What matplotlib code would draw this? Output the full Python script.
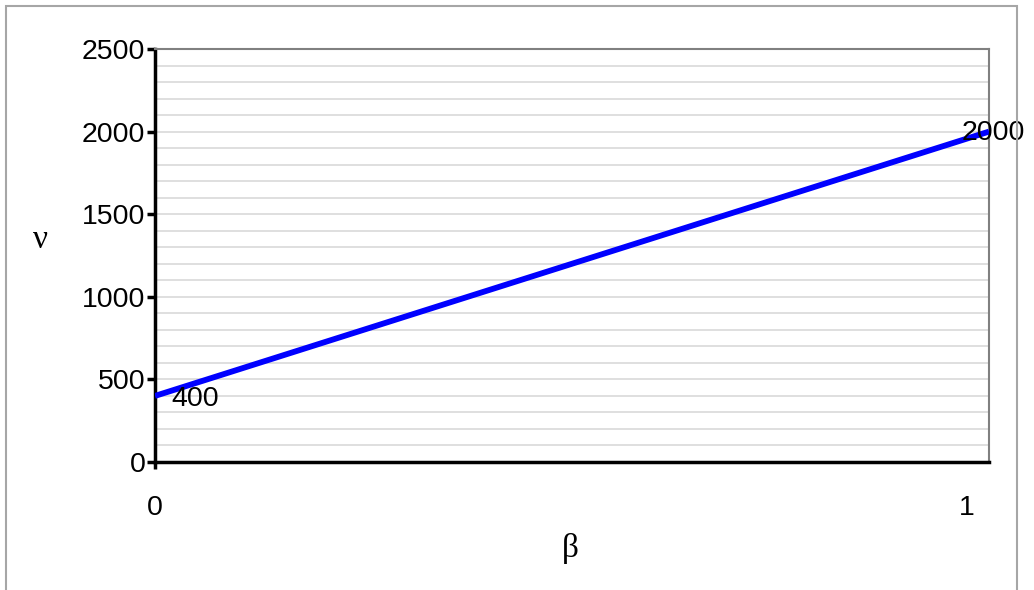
import numpy as np
import matplotlib.pyplot as plt
from matplotlib.patches import Rectangle
from matplotlib.transforms import ScaledTranslation

# Daten
beta = [0, 1]
nu = [400, 2000]
y_ticks = [0, 500, 1000, 1500, 2000, 2500]
x_ticks = [0, 1]

plt.rcParams['font.family'] = ['Liberation Sans', 'DejaVu Sans']

fig = plt.figure(figsize=(10.34, 5.9), dpi=100)
ax = fig.add_axes([155 / 1034, 128 / 590, 834 / 1034, 413 / 590])

# aeusserer Rahmen
fig.patches.append(Rectangle((6 / 1034, -0.1), 1011 / 1034, 1.1 - 6 / 590,
                             transform=fig.transFigure, fill=False,
                             edgecolor='#a6a6a6', linewidth=1.5))

ax.plot(beta, nu, color='#0000ff', linewidth=4.2, solid_capstyle='butt', zorder=3)

# Datenbeschriftungen
ax.annotate(str(nu[0]), (beta[0], nu[0]), xytext=(12, -2), textcoords='offset points',
            ha='left', va='center', fontsize=20.5)
ax.annotate(str(nu[1]), (beta[1], nu[1]), xytext=(3, -1), textcoords='offset points',
            ha='center', va='center', fontsize=20.5)

ax.set_xlim(0, 1)
ax.set_ylim(0, 2500)
ax.set_yticks(y_ticks)
ax.set_yticks(np.arange(0, 2501, 100), minor=True)
ax.set_xticks(x_ticks)
ax.set_xticklabels([str(v) for v in x_ticks])

ax.grid(True, which='both', axis='y', color='#d9d9d9', linewidth=1.2, zorder=0)
ax.set_axisbelow(True)

ax.tick_params(axis='y', which='major', length=6, width=2.5, direction='out',
               labelsize=20.5, pad=1)
ax.tick_params(axis='y', which='minor', length=0)
ax.tick_params(axis='x', length=5, width=2.5, direction='out', labelsize=20.5, pad=19)

# "1" sitzt etwas links vom Ende
lbls = ax.get_xticklabels()
lbls[1].set_transform(lbls[1].get_transform() + ScaledTranslation(-22 / 100, 0, fig.dpi_scale_trans))
ax.get_xticklines()[2].set_visible(False)

for s in ['left', 'bottom']:
    ax.spines[s].set_color('black')
    ax.spines[s].set_linewidth(2.5)
for s in ['top', 'right']:
    ax.spines[s].set_color('#808080')
    ax.spines[s].set_linewidth(1.5)

fig.text(40 / 1034, 1 - 240 / 590, 'ν', fontsize=24, family='Liberation Serif',
         ha='center', va='center')
fig.text(570 / 1034, 1 - 548 / 590, 'β', fontsize=24, family='Liberation Serif',
         ha='center', va='center')

fig.savefig('out.png', dpi=100)
